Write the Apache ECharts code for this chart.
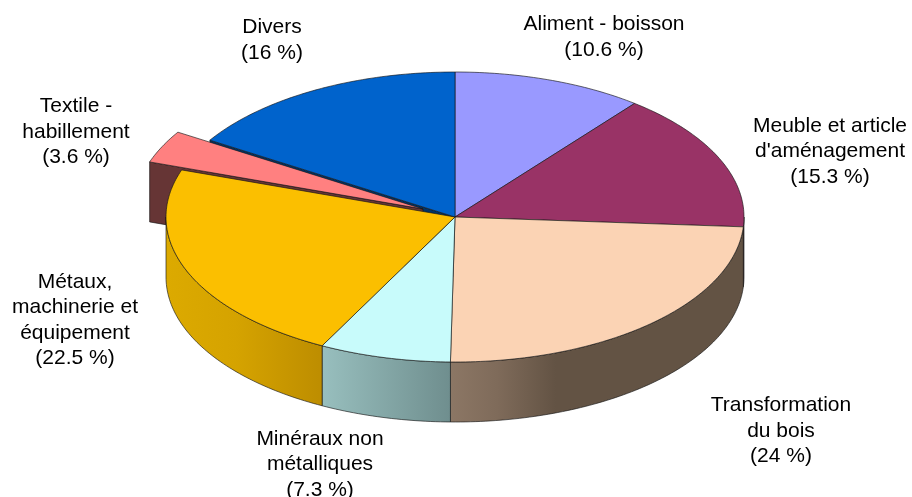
<!DOCTYPE html>
<html>
<head>
<meta charset="utf-8">
<style>
    html, body { margin: 0; padding: 0; background: #fff; }
    #chart { width: 912px; height: 497px; }
</style>
<script src="https://cdn.jsdelivr.net/npm/echarts@6/dist/echarts.min.js"></script>
</head>
<body>
<div id="chart"></div>
<script>
// Data
const categories = ['Aliment - boisson', "Meuble et article\nd'aménagement", 'Transformation\ndu bois',
    'Minéraux non\nmétalliques', 'Métaux,\nmachinerie et\néquipement', 'Textile -\nhabillement', 'Divers'];
const shares = [10.6, 15.3, 24, 7.3, 22.5, 3.6, 16];
const explodedIndex = 5;

// Look of the slices
const topColors = ['#9999FF', '#993366', '#FBD3B4', '#C8FBFB', '#FBBF00', '#FF8080', '#0063CC'];
const wallStops = [
    null,
    [[0, '#5C1F3D'], [1, '#5C1F3D']],
    [[0, '#8C7765'], [0.16, '#7F6B5A'], [0.36, '#635344'], [1, '#635344']],
    [[0, '#98BFBE'], [1, '#6F8E8E']],
    [[0, '#DCAA00'], [0.45, '#D5A300'], [1, '#BD8D00']],
    null,
    null
];
const labelCenters = [[604, 37], [830, 151.5], [781, 431], [320, 464.5], [75, 320], [76, 132], [272, 40]];

// Layout of the fake 3D disc
const CX = 455, CY = 217, RX = 289, RY = 145, DEPTH = 60;
const OFFSET_X = -32, OFFSET_Y = -8;
const EDGE = 'rgba(20, 20, 20, 0.8)';

const total = shares.reduce((a, b) => a + b, 0);

function startAngle(i) {
    return shares.slice(0, i).reduce((a, b) => a + b, 0) / total * 360;
}

// Angles run clockwise from twelve o'clock
function rimPoint(deg, dx, dy) {
    const r = deg * Math.PI / 180;
    return [CX + dx + RX * Math.sin(r), CY + dy - RY * Math.cos(r)];
}

function arcPoints(a0, a1, dx, dy) {
    const pts = [];
    const steps = Math.max(2, Math.ceil(Math.abs(a1 - a0)));
    for (let s = 0; s <= steps; s++) {
        pts.push(rimPoint(a0 + (a1 - a0) * s / steps, dx, dy));
    }
    return pts;
}

function poly(points, fill, z2) {
    return {
        type: 'polygon',
        z2: z2,
        shape: { points: points },
        style: { fill: fill, stroke: EDGE, lineWidth: 0.8, lineJoin: 'round' }
    };
}

function renderSlice(params, api) {
    const i = params.dataIndex;
    const a0 = startAngle(i);
    const a1 = a0 + api.value(0) / total * 360;
    const exploded = i === explodedIndex;
    const dx = exploded ? OFFSET_X : 0;
    const dy = exploded ? OFFSET_Y : 0;
    const tip = [CX + dx, CY + dy];
    const children = [];

    if (exploded) {
        // radial wall of the pulled-out slice, sits behind the disc
        const p = rimPoint(a0, dx, dy);
        children.push(poly([tip, p, [p[0], p[1] + DEPTH], [tip[0], tip[1] + DEPTH]], '#663535', 2));
        children.push(poly([tip].concat(arcPoints(a0, a1, dx, dy)), topColors[i], 3));
    } else {
        // outer wall, only the front half of the rim shows
        const w0 = Math.max(a0, 90), w1 = Math.min(a1, 270);
        if (w1 > w0 && wallStops[i]) {
            const upper = arcPoints(w0, w1, 0, 0);
            const lower = arcPoints(w1, w0, 0, DEPTH);
            const grad = new echarts.graphic.LinearGradient(0, 0, 1, 0,
                wallStops[i].map(s => ({ offset: s[0], color: s[1] })));
            children.push(poly(upper.concat(lower), grad, 4));
        }
        // wall of the notch left by the pulled-out slice
        if (i === explodedIndex + 1) {
            const p = rimPoint(a0, 0, 0);
            children.push(poly([tip, p, [p[0], p[1] + DEPTH], [tip[0], tip[1] + DEPTH]], '#003366', 1));
        }
        children.push(poly([tip].concat(arcPoints(a0, a1, 0, 0)), topColors[i], 5));
    }

    children.push({
        type: 'text',
        z2: 6,
        style: {
            text: categories[i] + '\n(' + shares[i] + ' %)',
            x: labelCenters[i][0],
            y: labelCenters[i][1],
            align: 'center',
            verticalAlign: 'middle',
            fill: '#000',
            font: '21px "Liberation Sans", Arial, sans-serif',
            lineHeight: 25.5
        }
    });

    return { type: 'group', children: children };
}

const chart = echarts.init(document.getElementById('chart'), null, { renderer: 'canvas' });
chart.setOption({
    animation: false,
    backgroundColor: '#fff',
    series: [{
        type: 'custom',
        coordinateSystem: 'none',
        silent: true,
        clip: false,
        renderItem: renderSlice,
        data: shares.map(v => [v])
    }]
});
</script>
</body>
</html>
